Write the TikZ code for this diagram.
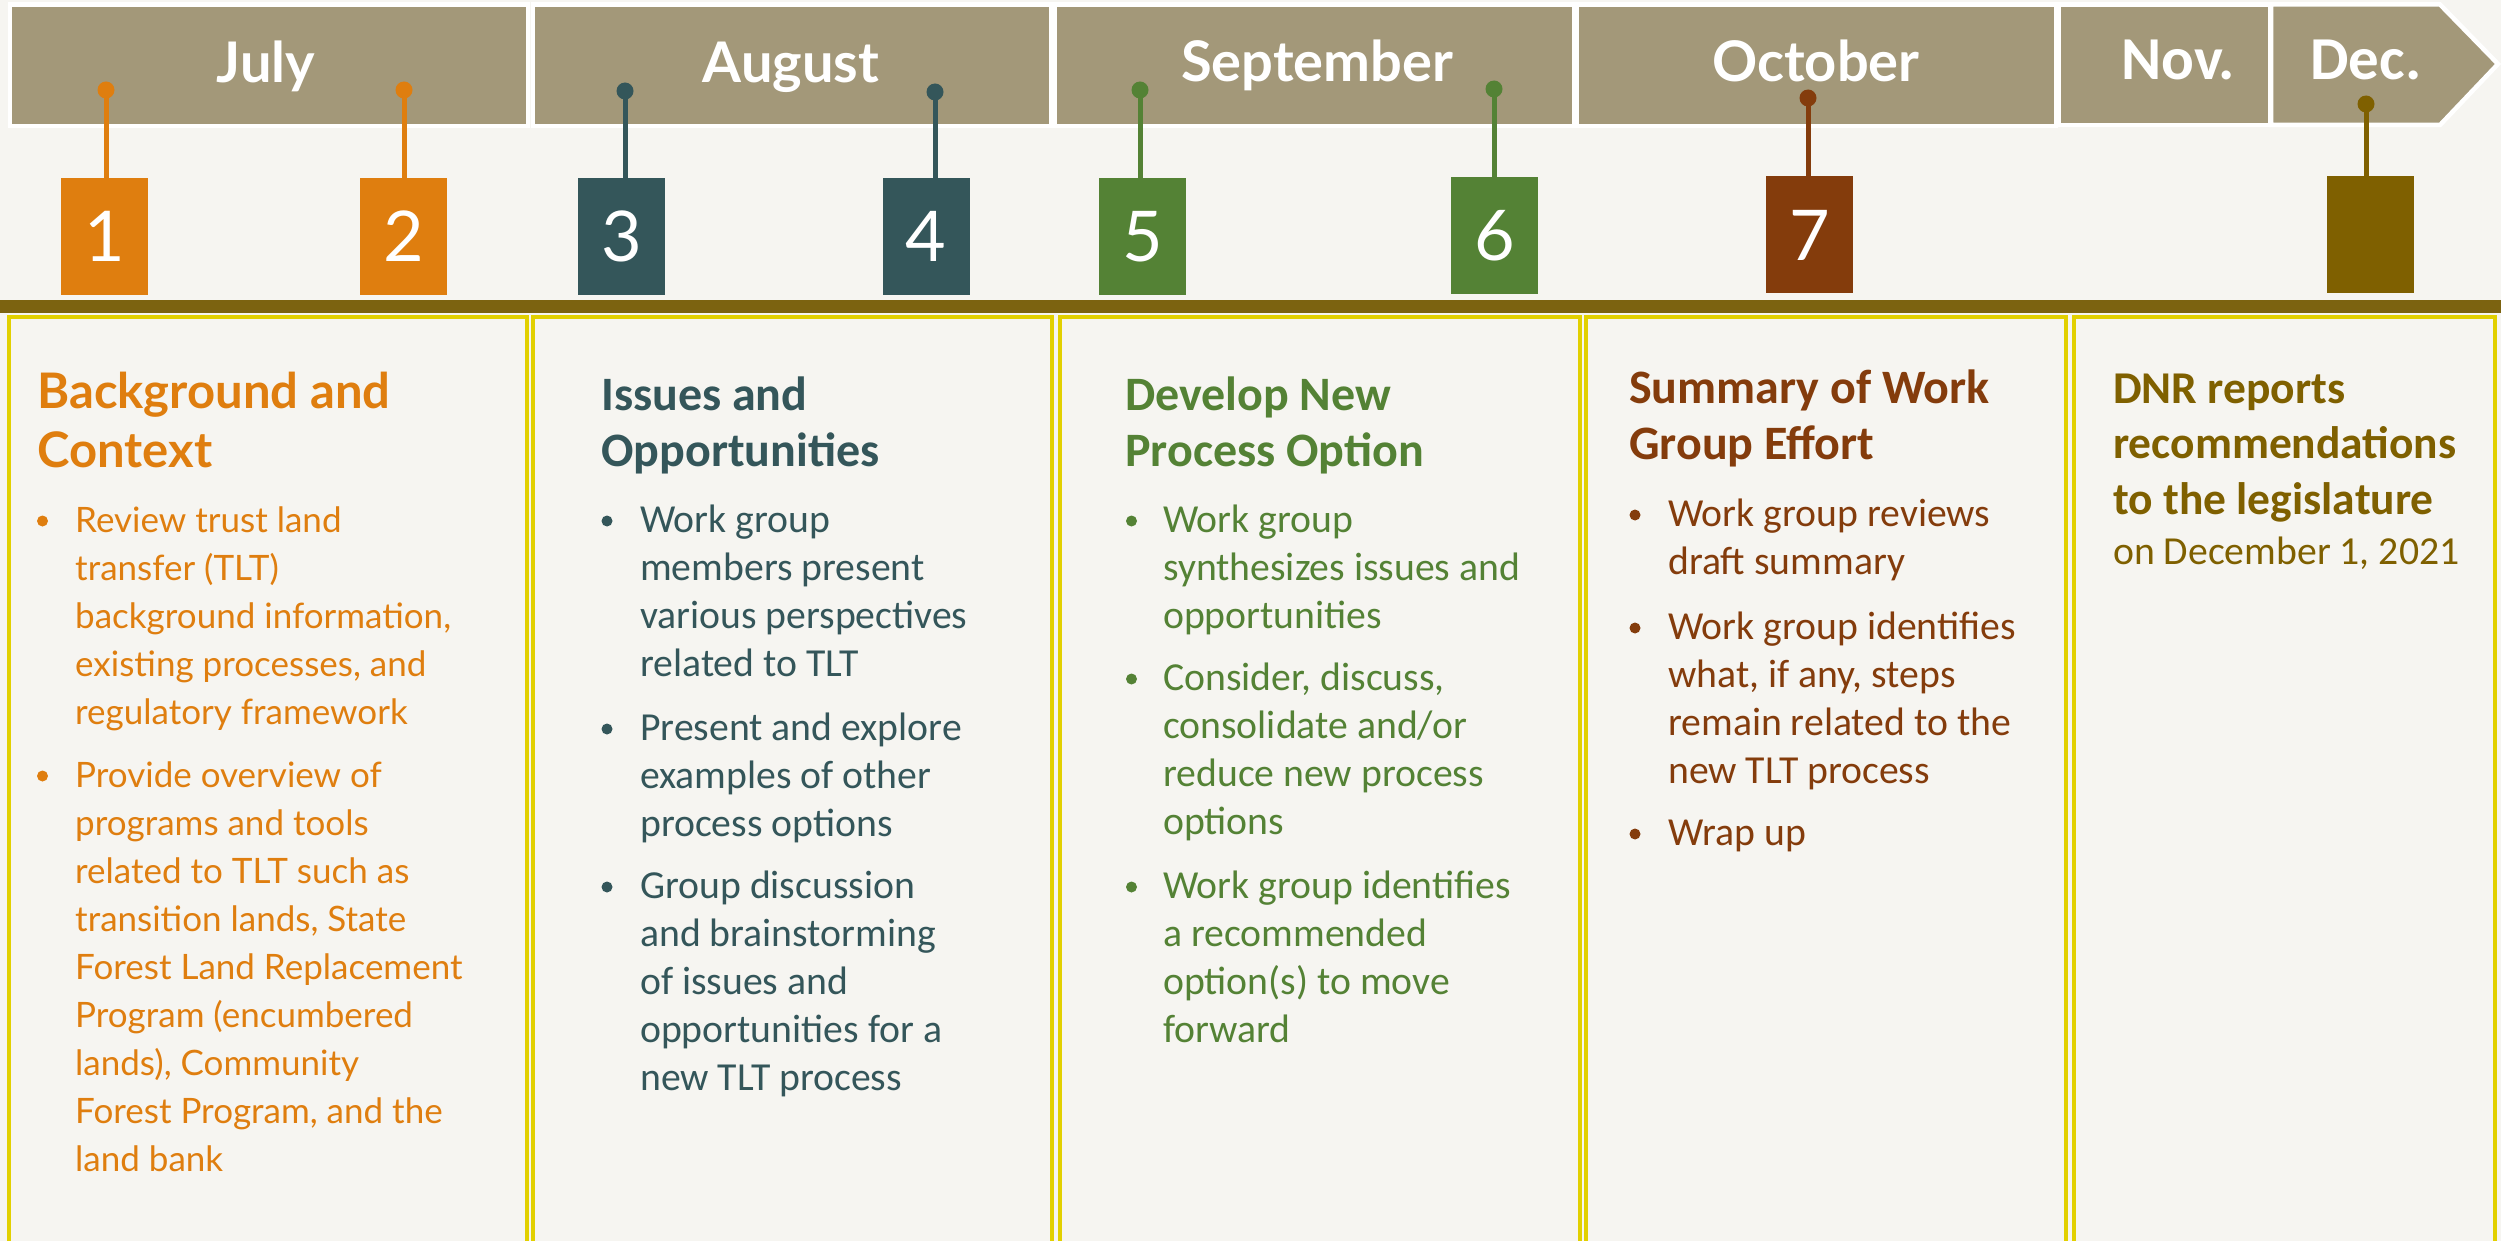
\documentclass[tikz,border=0pt]{standalone}
\usepackage{fontspec}
\setmainfont{Carlito}
\newfontfamily\gill{Lato}
\definecolor{bgc}{HTML}{F6F5F1}
\definecolor{tan}{HTML}{A39879}
\definecolor{corange}{HTML}{DF7E0F}
\definecolor{cteal}{HTML}{34565A}
\definecolor{cgreen}{HTML}{548235}
\definecolor{cbrown}{HTML}{843C0C}
\definecolor{colive}{HTML}{7F6000}
\definecolor{cbar}{HTML}{7C6310}
\definecolor{cyel}{HTML}{E2D000}
\newcommand\bdot[3]{\fill[#1] (#2,#3-11) circle[radius=5.5];}
\newcommand\lns[1]{\vtop{\let\\\cr\halign{##\hfil\cr#1\crcr}}}
\begin{document}
\begin{tikzpicture}[x=1pt,y=-1pt,
  band/.style={fill=tan,draw=white,line width=4.5},
  mlab/.style={text=white,anchor=base,inner sep=0,font=\gill\bfseries\fontsize{56}{60}\selectfont},
  mlabc/.style={text=white,anchor=base,inner sep=0,font=\bfseries\fontsize{61}{68}\selectfont},
  pindot/.style={circle,inner sep=0,minimum size=17},
  stem/.style={line width=5},
  numbox/.style={minimum width=87,minimum height=117,inner sep=0,text=white,font=\gill\fontsize{70}{80}\selectfont},
  colbox/.style={draw=cyel,line width=4,fill=bgc},
  headg/.style={anchor=base west,inner sep=0,font=\gill\bfseries\fontsize{49}{59}\selectfont},
  bodyg/.style={anchor=base west,inner sep=0,font=\gill\fontsize{35}{48}\selectfont},
  headc/.style={anchor=base west,inner sep=0,font=\bfseries\fontsize{48}{56.5}\selectfont},
  headd/.style={anchor=base west,inner sep=0,font=\bfseries\fontsize{45.5}{55.5}\selectfont},
  bodyc/.style={anchor=base west,inner sep=0,font=\fontsize{39.7}{48}\selectfont}
]
\useasboundingbox (0,0) rectangle (2501,1241);
\fill[bgc] (0,0) rectangle (2501,1241);

% month bands
\draw[band] (10,4.5) rectangle (528,126);
\draw[band] (533,4.5) rectangle (1051,126);
\draw[band] (1055,4.5) rectangle (1574,126);
\draw[band] (1577,4.5) rectangle (2056,126);
\draw[band] (2059,4.5) rectangle (2270,125);
\draw[band] (2271,4.5) -- (2440,4.5) -- (2498,64) -- (2440,125) -- (2271,125) -- cycle;
\node[mlab] (mjul) at (266,83) {July};
\node[mlab] (maug) at (791,83) {August};
\node[mlab] (msep) at (1317,82) {September};
\node[mlab] (moct) at (1816,82) {October};
\node[mlabc] (mnov) at (2178,80) {Nov.};
\node[mlabc] (mdec) at (2366,80) {Dec.};

% timeline bar
\fill[cbar] (0,300) rectangle (2501,313);

% columns
\draw[colbox] (8.5,317) rectangle (527,1270);
\draw[colbox] (533,317) rectangle (1051.5,1270);
\draw[colbox] (1060,317) rectangle (1579.5,1270);
\draw[colbox] (1586,317) rectangle (2066,1270);
\draw[colbox] (2074,317) rectangle (2495,1270);

% number boxes
\node[numbox,fill=corange] (b1) at (104.5,236.5) {1};
\node[numbox,fill=corange] (b2) at (403.5,236.5) {2};
\node[numbox,fill=cteal] (b3) at (621.5,236.5) {3};
\node[numbox,fill=cteal] (b4) at (926,236.5) {4};
\node[numbox,fill=cgreen] (b5) at (1142.5,236.5) {5};
\node[numbox,fill=cgreen] (b6) at (1494.5,235.5) {6};
\node[numbox,fill=cbrown] (b7) at (1809.5,235) {7};
\node[numbox,fill=colive] (b8) at (2370.5,235) {};

% pins
\node[pindot,fill=corange] (d1) at (106,90) {};
\node[pindot,fill=corange] (d2) at (404,90) {};
\node[pindot,fill=cteal] (d3) at (625,91) {};
\node[pindot,fill=cteal] (d4) at (935,92) {};
\node[pindot,fill=cgreen] (d5) at (1140,90) {};
\node[pindot,fill=cgreen] (d6) at (1494,89) {};
\node[pindot,fill=cbrown] (d7) at (1808,98) {};
\node[pindot,fill=colive] (d8) at (2366,104) {};
\draw[stem,corange] (d1.center) -- (d1 |- b1.north);
\draw[stem,corange] (d2.center) -- (d2 |- b2.north);
\draw[stem,cteal] (d3.center) -- (d3 |- b3.north);
\draw[stem,cteal] (d4.center) -- (d4 |- b4.north);
\draw[stem,cgreen] (d5.center) -- (d5 |- b5.north);
\draw[stem,cgreen] (d6.center) -- (d6 |- b6.north);
\draw[stem,cbrown] (d7.center) -- (d7 |- b7.north);
\draw[stem,colive] (d8.center) -- (d8 |- b8.north);

% column 1
\node[headg,text=corange] (h1) at (37,408) {\lns{Background and\\Context}};
\bdot{corange}{42.5}{532}
\node[bodyg,text=corange] (t1a) at (75,532) {\lns{Review trust land\\transfer (TLT)\\background information,\\existing processes, and\\regulatory framework}};
\bdot{corange}{42.5}{787}
\node[bodyg,text=corange] (t1b) at (75,787) {\lns{Provide overview of\\programs and tools\\related to TLT such as\\transition lands, State\\Forest Land Replacement\\Program (encumbered\\lands), Community\\Forest Program, and the\\land bank}};

% column 2
\node[headc,text=cteal] (h2) at (601,410) {\lns{Issues and\\Opportunities}};
\bdot{cteal}{607}{532}
\node[bodyc,text=cteal] (t2a) at (640,532) {\lns{Work group\\members present\\various perspectives\\related to TLT}};
\bdot{cteal}{607}{740}
\node[bodyc,text=cteal] (t2b) at (640,740) {\lns{Present and explore\\examples of other\\process options}};
\bdot{cteal}{607}{898}
\node[bodyc,text=cteal] (t2c) at (640,898) {\lns{Group discussion\\and brainstorming\\of issues and\\opportunities for a\\new TLT process}};

% column 3
\node[headc,text=cgreen] (h3) at (1125,410) {\lns{Develop New\\Process Option}};
\bdot{cgreen}{1131.5}{532}
\node[bodyc,text=cgreen] (t3a) at (1163,532) {\lns{Work group\\synthesizes issues and\\opportunities}};
\bdot{cgreen}{1131.5}{690}
\node[bodyc,text=cgreen] (t3b) at (1163,690) {\lns{Consider, discuss,\\consolidate and/or\\reduce new process\\options}};
\bdot{cgreen}{1131.5}{898}
\node[bodyc,text=cgreen] (t3c) at (1163,898) {\lns{Work group identifies\\a recommended\\option(s) to move\\forward}};

% column 4
\node[headc,text=cbrown] (h4) at (1629,403) {\lns{Summary of Work\\Group Effort}};
\bdot{cbrown}{1635}{526}
\node[bodyc,text=cbrown] (t4a) at (1668,526) {\lns{Work group reviews\\draft summary}};
\bdot{cbrown}{1635}{639}
\node[bodyc,text=cbrown] (t4b) at (1668,639) {\lns{Work group identifies\\what, if any, steps\\remain related to the\\new TLT process}};
\bdot{cbrown}{1635}{845}
\node[bodyc,text=cbrown] (t4c) at (1668,845) {Wrap up};

% column 5
\node[headd,text=colive] (h5) at (2113,403) {\lns{DNR reports\\recommendations\\to the legislature}};
\node[bodyc,text=colive] (t5) at (2113,564) {on December 1, 2021};
\end{tikzpicture}
\end{document}
